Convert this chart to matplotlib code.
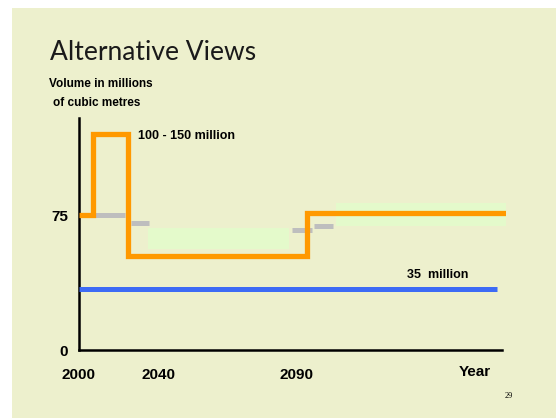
import matplotlib.pyplot as plt
from matplotlib.patches import Rectangle

# schematic x positions (axis units 0..100), y in millions of cubic metres
orange_edges = [0, 3.4, 11.6, 53.9, 101]
orange_levels = [75, 120, 52, 76]

gray_x0 = [3.3, 12.3, 50.4, 55.6]
gray_x1 = [10.9, 16.6, 55.1, 60.1]
gray_y = [75, 70.5, 67, 69.2]

band_x0 = [16.3, 60.8]
band_x1 = [49.7, 101.2]
band_y0 = [56, 69]
band_y1 = [68, 82]

blue_x = [0, 98.9]
blue_y = [34, 34]

xtick_pos = [0, 18.7, 51.4]
xtick_labels = ['2000', '2040', '2090']
ytick_pos = [0, 75]
ytick_labels = ['0', '75']

bg = '#EDF0CD'
W, H = 556, 418
fig = plt.figure(figsize=(W / 100, H / 100), dpi=100)
fig.patch.set_facecolor('white')
fig.patches.append(Rectangle((12 / W, 0), 1 - 12 / W, (H - 8) / H,
                             transform=fig.transFigure, facecolor=bg,
                             edgecolor='none', zorder=-5))

ax = fig.add_axes([79 / W, (H - 350) / H, 427 / W, 232 / H])
ax.set_zorder(1)
ax.set_facecolor('none')
ax.set_xlim(0, 101)
ax.set_ylim(0, 129)

for a, b, c, d in zip(band_x0, band_x1, band_y0, band_y1):
    ax.add_patch(Rectangle((a, c), b - a, d - c, facecolor='#E4FACB',
                           edgecolor='none', zorder=1))

for a, b, y in zip(gray_x0, gray_x1, gray_y):
    ax.plot([a, b], [y, y], color='#BEBEBE', lw=3.6, solid_capstyle='butt', zorder=2)

ax.plot(blue_x, blue_y, color='#3D6BF5', lw=3.6, solid_capstyle='butt', zorder=3)
ax.stairs(orange_levels, orange_edges, baseline=None, color='#FF9900',
          lw=3.8, zorder=4)

for s in ['top', 'right']:
    ax.spines[s].set_visible(False)
ax.spines['left'].set_linewidth(1.8)
ax.spines['bottom'].set_linewidth(1.8)
ax.spines['bottom'].set_bounds(0, 100)
ax.spines['left'].set_bounds(0, 129)

ax.set_xticks(xtick_pos, xtick_labels)
ax.set_yticks(ytick_pos, ytick_labels)
ax.tick_params(length=0, labelsize=11)
ax.tick_params(axis='x', pad=13)
ax.tick_params(axis='y', pad=8)
for lab in ax.get_xticklabels() + ax.get_yticklabels():
    lab.set_fontfamily('Liberation Sans')
    lab.set_fontweight('bold')

ax.text(93.7, -12, 'Year', ha='center', va='center', fontsize=11,
        fontfamily='Liberation Sans', fontweight='bold')
ax.text(14, 119, '100 - 150 million', ha='left', va='center', fontsize=9,
        fontfamily='Liberation Sans', fontweight='bold')
ax.text(77.5, 41.5, '35  million', ha='left', va='center', fontsize=9,
        fontfamily='Liberation Sans', fontweight='bold')

fig.text(50 / W, 1 - 52 / H, 'Alternative Views', ha='left', va='center',
         fontsize=19, fontfamily='Lato', color='#1a1a1a')
fig.text(49 / W, 1 - 84 / H, 'Volume in millions', ha='left', va='center',
         fontsize=8.5, fontfamily='Liberation Sans', fontweight='bold')
fig.text(53 / W, 1 - 103 / H, 'of cubic metres', ha='left', va='center',
         fontsize=8.5, fontfamily='Liberation Sans', fontweight='bold')
fig.text(509 / W, 1 - 396 / H, '29', ha='center', va='center',
         fontsize=6, fontfamily='Liberation Serif')

fig.savefig('out.png', dpi=100, facecolor=fig.get_facecolor())
